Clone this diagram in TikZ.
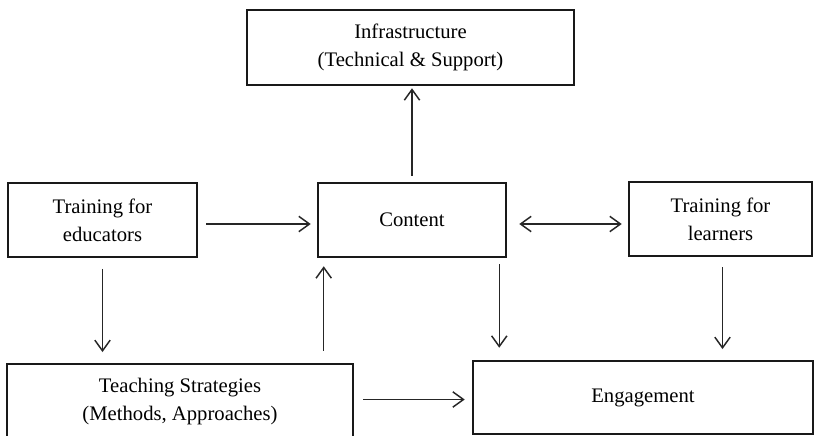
\documentclass[tikz,border=0pt]{standalone}
\usepackage{fontspec}
\setmainfont{Liberation Serif}
\usetikzlibrary{arrows.meta}
\tikzset{
  box/.style={draw=black!90, line width=1.9pt, inner sep=0pt, align=center,
    font=\fontsize{15.5}{21}\selectfont},
  arr/.style={draw=black!85, line width=1.1pt,
    -{Straight Barb[length=8pt,width=11.5pt,line width=1.1pt]}},
  darr/.style={draw=black!85, line width=1.1pt,
    {Straight Barb[length=8pt,width=11.5pt,line width=1.1pt]}-{Straight Barb[length=8pt,width=11.5pt,line width=1.1pt]}}
}
\begin{document}
\begin{tikzpicture}[x=0.75pt,y=-0.75pt]
\clip (0,0) rectangle (815,436);
\fill[white] (0,0) rectangle (815,436);
\node[box, minimum width=245.25pt, minimum height=56.25pt] (infra) at (410.5,47.5)
  {Infrastructure\\(Technical \& Support)};
\node[box, minimum width=141.75pt, minimum height=55.5pt] (edu) at (102.5,220)
  {Training for\\educators};
\node[box, minimum width=141pt, minimum height=55.5pt] (content) at (412,220)
  {Content};
\node[box, minimum width=137.25pt, minimum height=55.5pt] (learn) at (720.5,219)
  {Training for\\learners};
\node[box, minimum width=259.5pt, minimum height=57pt] (teach) at (180,402)
  {Teaching Strategies\\(Methods, Approaches)};
\node[box, minimum width=255pt, minimum height=54.75pt] (eng) at (643,397.5)
  {Engagement};
% connectors
\draw[arr, shorten <=4.5pt, shorten >=1.5pt] (content.north) -- (content.north |- infra.south);
\draw[arr, shorten <=6pt, shorten >=4.5pt] ([yshift=-3pt]edu.east) -- ([yshift=-3pt]content.west);
\draw[darr, shorten <=9pt, shorten >=4.5pt] ([yshift=-3pt]content.east) -- ([yshift=-3pt]content.east -| learn.west);
\draw[arr, shorten <=8pt, shorten >=8pt] (edu.south) -- (edu.south |- teach.north);
\draw[arr, shorten <=9pt, shorten >=6pt] ([xshift=5.25pt]content.south west |- teach.north) -- ([xshift=5.25pt]content.south west);
\draw[arr, shorten <=4.5pt, shorten >=9pt] ([xshift=-6pt]content.south east) -- ([xshift=-6pt]content.south east |- eng.north);
\draw[arr, shorten <=7.5pt, shorten >=8pt] ([xshift=1.5pt]learn.south) -- ([xshift=1.5pt]learn.south |- eng.north);
\draw[arr, shorten <=6.75pt, shorten >=5.25pt] ([yshift=-1.5pt]eng.west -| teach.east) -- ([yshift=-1.5pt]eng.west);
\end{tikzpicture}
\end{document}
